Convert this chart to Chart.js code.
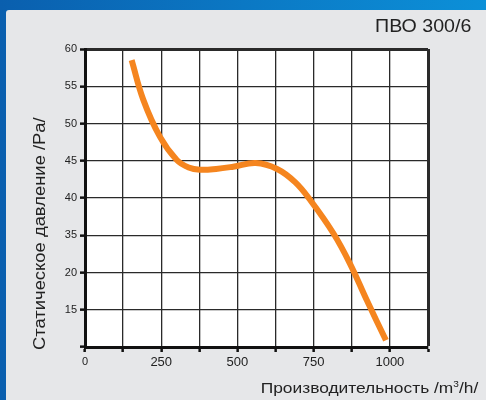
<!DOCTYPE html>
<html>
<head>
<meta charset="utf-8">
<script src="https://cdn.jsdelivr.net/npm/chart.js@4/dist/chart.umd.min.js"></script>
<style>
  html, body { margin: 0; padding: 0; }
  body {
    width: 486px; height: 400px; overflow: hidden; position: relative;
    background: linear-gradient(90deg, #0a5fae 0%, #0b78c4 50%, #0c90d8 100%);
    font-family: "Liberation Sans", Arial, sans-serif;
  }
  #panel {
    position: absolute; left: 6px; top: 10px; right: 0; bottom: 0;
    background: #e6e7e9; border-top-left-radius: 3px;
  }
  #wrap { position: absolute; left: 0; top: 0; width: 486px; height: 400px; }
  .txt { position: absolute; color: #222; white-space: nowrap; }
  #title { right: 15px; top: 16px; font-size: 18px; transform-origin: 100% 0; transform: scaleX(1.09); }
  #xTitle { right: 8px; top: 379px; font-size: 15.5px; transform-origin: 100% 0; transform: scaleX(1.12); }
  #yTitle {
    left: 40px; top: 350px; font-size: 16px;
    transform-origin: 0 0; transform: rotate(-90deg) translate(0, -50%) scaleX(1.15);
  }
</style>
</head>
<body>
<div id="panel"></div>
<div id="wrap"><canvas id="chart" width="486" height="400"></canvas></div>
<div class="txt" id="title">ПВО 300/6</div>
<div class="txt" id="xTitle">Производительность /m<sup style="font-size:9px">3</sup>/h/</div>
<div class="txt" id="yTitle">Статическое давление /Pa/</div>
<script>
const flowX = [153, 191, 246, 301, 340, 377, 430, 486, 560, 630, 690, 741, 814, 869, 924, 987];
const pressureY = [58.5, 53.2, 48.2, 45.1, 44.1, 43.8, 43.9, 44.2, 44.7, 43.9, 42.1, 39.6, 35.3, 31.2, 26.3, 20.9];
const xTickLabels = ["0", "", "250", "", "500", "", "750", "", "1000", ""];
const yTickLabels = ["", "15", "20", "35", "40", "45", "50", "55", "60"];

const plotBg = {
  id: "plotBg",
  beforeDraw(chart) {
    const { ctx, chartArea: a } = chart;
    ctx.save();
    ctx.fillStyle = "#ffffff";
    ctx.fillRect(a.left, a.top, a.right - a.left, a.bottom - a.top);
    ctx.restore();
  }
};

new Chart(document.getElementById("chart"), {
  type: "scatter",
  data: {
    datasets: [
      {
        data: flowX.map((x, i) => ({ x, y: pressureY[i] })),
        showLine: true,
        borderColor: "#f5851f",
        borderWidth: 6,
        tension: 0.4,
        pointRadius: 0,
        fill: false
      }
    ]
  },
  options: {
    responsive: false,
    animation: false,
    layout: { padding: { left: 0, top: 49, right: 58, bottom: 23 } },
    plugins: { legend: { display: false }, tooltip: { enabled: false } },
    scales: {
      x: {
        type: "linear",
        min: 0,
        max: 1125,
        afterFit: (s) => { s.height = 30; },
        ticks: {
          stepSize: 125,
          autoSkip: false,
          maxRotation: 0,
          padding: 3,
          color: "#222",
          font: (c) => ({ family: "Liberation Sans", size: c.tick && c.tick.value === 0 ? 11 : 13 }),
          callback: (v) => xTickLabels[Math.round(v / 125)]
        },
        grid: {
          color: "#2a2a2a",
          lineWidth: (c) => (c.tick && c.tick.value === 1125 ? 3 : 1.3),
          tickColor: "#111",
          tickWidth: 2.5,
          tickLength: 5
        },
        border: { color: "#111", width: 3 }
      },
      y: {
        min: 20,
        max: 60,
        afterFit: (s) => { s.width = 85; },
        ticks: {
          stepSize: 5,
          padding: 3,
          color: "#222",
          font: { family: "Liberation Sans", size: 11 },
          callback: (v) => yTickLabels[Math.round((v - 20) / 5)]
        },
        grid: {
          color: "#2a2a2a",
          lineWidth: (c) => (c.tick && c.tick.value === 60 ? 3 : 1.3),
          tickColor: "#111",
          tickWidth: 2.5,
          tickLength: 5
        },
        border: { color: "#111", width: 3 }
      }
    }
  },
  plugins: [plotBg]
});
</script>
</body>
</html>
